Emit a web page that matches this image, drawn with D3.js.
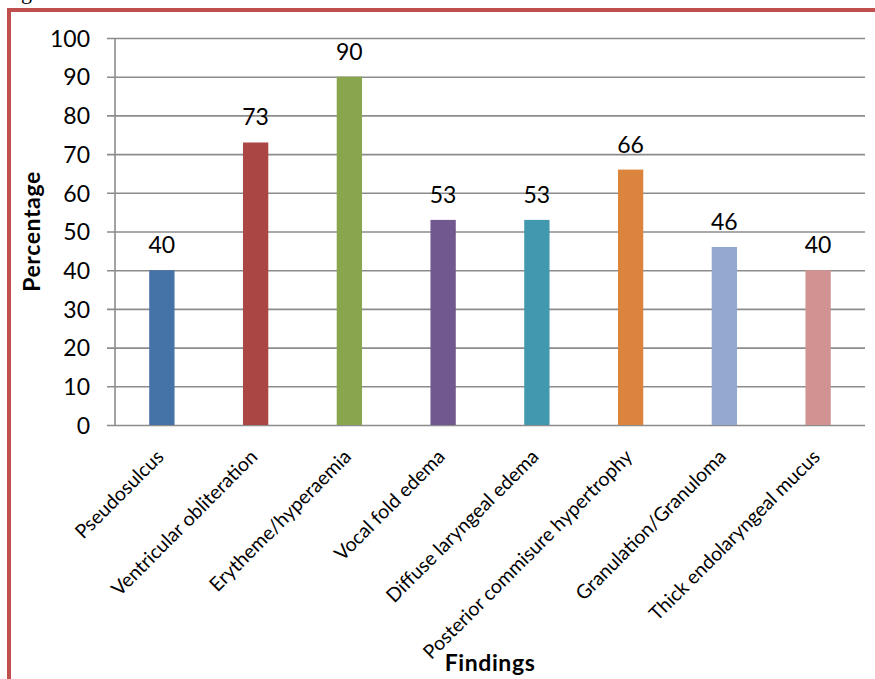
<!DOCTYPE html>
<html>
<head>
<meta charset="utf-8">
<script src="https://cdn.jsdelivr.net/npm/d3@7"></script>
<style>
  html, body { margin: 0; padding: 0; background: #fff; }
  svg { display: block; }
  text { font-family: Lato, "Open Sans", sans-serif; fill: #000; }
</style>
</head>
<body>
<svg id="chart" width="875" height="679"></svg>
<script>
// Laryngeal findings (percentage of patients)
const categories = [
  "Pseudosulcus",
  "Ventricular obliteration",
  "Erytheme/hyperaemia",
  "Vocal fold edema",
  "Diffuse laryngeal edema",
  "Posterior commisure hypertrophy",
  "Granulation/Granuloma",
  "Thick endolaryngeal mucus"
];
const values = [40, 73, 90, 53, 53, 66, 46, 40];
const barColors = ["#4572A7", "#AA4643", "#89A54E", "#71588F", "#4198AF", "#DB843D", "#93A9CF", "#D19392"];
const yTicks = [0, 10, 20, 30, 40, 50, 60, 70, 80, 90, 100];
const yTitle = "Percentage";
const xTitle = "Findings";

const svg = d3.select("#chart");
const W = 875, H = 679;
const plot = { left: 115, right: 865, top: 38, bottom: 425 };

// Page frame: top and left rules of the surrounding box, with the tail of the text above it
svg.append("text")
  .attr("x", 21).attr("y", -1)
  .style("font-family", "'Liberation Serif', serif")
  .style("font-size", "22px")
  .text("g");
svg.append("path")
  .attr("d", `M9,${H} V10 H${W}`)
  .attr("fill", "none")
  .attr("stroke", "#C0504D")
  .attr("stroke-width", 4);

const x = d3.scaleBand().domain(categories).range([plot.left, plot.right]).padding(0);
const y = d3.scaleLinear().domain([0, 100]).range([plot.bottom, plot.top]);
const barW = x.bandwidth() * 0.27;

// Horizontal gridlines with tick labels
const yAxis = d3.axisLeft(y).tickValues(yTicks).tickSize(-(plot.right - plot.left)).tickPadding(0).tickFormat(d3.format("d"));
const gy = svg.append("g").attr("transform", `translate(${plot.left},0)`).call(yAxis);
gy.select(".domain").remove();
gy.selectAll(".tick line")
  .attr("x1", -8)
  .attr("stroke", "#8c8c8c")
  .attr("stroke-width", 1.6);
gy.selectAll(".tick text")
  .attr("x", -25)
  .attr("dy", "0.36em")
  .style("font-size", "23px")
  .style("font-family", "Lato, sans-serif")
  .attr("fill", "#000");

// Vertical axis line
svg.append("line")
  .attr("x1", plot.left).attr("x2", plot.left)
  .attr("y1", y(100)).attr("y2", y(0))
  .attr("stroke", "#8c8c8c").attr("stroke-width", 1.6);

// Bars
svg.append("g").selectAll("rect")
  .data(values)
  .join("rect")
  .attr("x", (d, i) => x(categories[i]) + x.bandwidth() / 2 - barW / 2)
  .attr("y", d => y(d))
  .attr("width", barW)
  .attr("height", d => y(0) - y(d))
  .attr("fill", (d, i) => barColors[i]);

// Value labels
svg.append("g").selectAll("text")
  .data(values)
  .join("text")
  .attr("x", (d, i) => x(categories[i]) + x.bandwidth() / 2)
  .attr("y", d => y(d) - 17)
  .attr("text-anchor", "middle")
  .style("font-size", "23px")
  .text(d => d);

// Rotated category labels
const xAxis = d3.axisBottom(x).tickSize(0).tickPadding(0);
const gx = svg.append("g").attr("transform", `translate(0,${plot.bottom})`).call(xAxis);
gx.select(".domain").remove();
gx.selectAll(".tick text")
  .attr("text-anchor", "end")
  .attr("dy", 0)
  .attr("y", 0)
  .attr("transform", "translate(3,33) rotate(-45)")
  .style("font-size", "19.5px")
  .style("font-family", "Lato, sans-serif")
  .attr("fill", "#000");

// Axis titles
svg.append("text")
  .attr("transform", `translate(40,${(plot.top + plot.bottom) / 2}) rotate(-90)`)
  .attr("text-anchor", "middle")
  .style("font-size", "23px")
  .style("font-weight", "bold")
  .style("letter-spacing", "0.6px")
  .text(yTitle);
svg.append("text")
  .attr("x", (plot.left + plot.right) / 2)
  .attr("y", 671)
  .attr("text-anchor", "middle")
  .style("font-size", "23px")
  .style("font-weight", "bold")
  .style("letter-spacing", "0.6px")
  .text(xTitle);
</script>
</body>
</html>
